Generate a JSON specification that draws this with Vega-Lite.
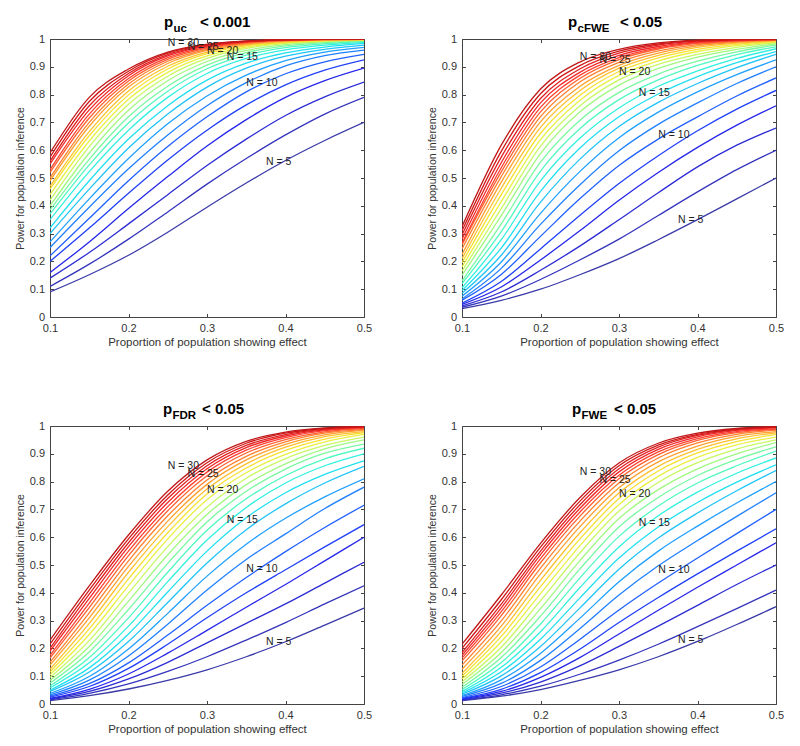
{
"$schema":"https://vega.github.io/schema/vega-lite/v6.json",
"background":"white",
"padding":{"left":14,"top":14,"right":5,"bottom":5},
"autosize":{"type":"pad"},
"config":{"view":{"stroke":"#444","strokeWidth":1},"font":"Liberation Sans",
"axis":{"grid":false,"domain":false,"tickColor":"#444","tickSize":-3.5,"labelFont":"Liberation Sans","labelFontSize":11,"labelColor":"#333","titleFont":"Liberation Sans","titleColor":"#333","titleFontWeight":"normal","labelFlush":false}},
"datasets":{
"labels":[
{"p":1,"t":"N = 30","x":0.25,"y":0.984},{"p":1,"t":"N = 25","x":0.275,"y":0.972},{"p":1,"t":"N = 20","x":0.3,"y":0.958},{"p":1,"t":"N = 15","x":0.325,"y":0.935},{"p":1,"t":"N = 10","x":0.35,"y":0.841},{"p":1,"t":"N = 5","x":0.375,"y":0.558},
{"p":2,"t":"N = 30","x":0.25,"y":0.937},{"p":2,"t":"N = 25","x":0.275,"y":0.925},{"p":2,"t":"N = 20","x":0.3,"y":0.883},{"p":2,"t":"N = 15","x":0.325,"y":0.805},{"p":2,"t":"N = 10","x":0.35,"y":0.655},{"p":2,"t":"N = 5","x":0.375,"y":0.35},
{"p":3,"t":"N = 30","x":0.25,"y":0.855},{"p":3,"t":"N = 25","x":0.275,"y":0.826},{"p":3,"t":"N = 20","x":0.3,"y":0.769},{"p":3,"t":"N = 15","x":0.325,"y":0.661},{"p":3,"t":"N = 10","x":0.35,"y":0.487},{"p":3,"t":"N = 5","x":0.375,"y":0.224},
{"p":4,"t":"N = 30","x":0.25,"y":0.835},{"p":4,"t":"N = 25","x":0.275,"y":0.805},{"p":4,"t":"N = 20","x":0.3,"y":0.757},{"p":4,"t":"N = 15","x":0.325,"y":0.651},{"p":4,"t":"N = 10","x":0.35,"y":0.481},{"p":4,"t":"N = 5","x":0.375,"y":0.23}
],
"curves":[
{"p":1,"N":5,"x":0.1,"y":0.09},{"p":1,"N":5,"x":0.15,"y":0.152},{"p":1,"N":5,"x":0.2,"y":0.222},{"p":1,"N":5,"x":0.25,"y":0.305},{"p":1,"N":5,"x":0.3,"y":0.395},{"p":1,"N":5,"x":0.35,"y":0.482},{"p":1,"N":5,"x":0.4,"y":0.563},{"p":1,"N":5,"x":0.45,"y":0.635},{"p":1,"N":5,"x":0.5,"y":0.7},
{"p":1,"N":6,"x":0.1,"y":0.11},{"p":1,"N":6,"x":0.15,"y":0.19},{"p":1,"N":6,"x":0.2,"y":0.28},{"p":1,"N":6,"x":0.25,"y":0.378},{"p":1,"N":6,"x":0.3,"y":0.478},{"p":1,"N":6,"x":0.35,"y":0.57},{"p":1,"N":6,"x":0.4,"y":0.655},{"p":1,"N":6,"x":0.45,"y":0.73},{"p":1,"N":6,"x":0.5,"y":0.79},
{"p":1,"N":7,"x":0.1,"y":0.14},{"p":1,"N":7,"x":0.15,"y":0.232},{"p":1,"N":7,"x":0.2,"y":0.335},{"p":1,"N":7,"x":0.25,"y":0.44},{"p":1,"N":7,"x":0.3,"y":0.545},{"p":1,"N":7,"x":0.35,"y":0.64},{"p":1,"N":7,"x":0.4,"y":0.725},{"p":1,"N":7,"x":0.45,"y":0.792},{"p":1,"N":7,"x":0.5,"y":0.845},
{"p":1,"N":8,"x":0.1,"y":0.16},{"p":1,"N":8,"x":0.15,"y":0.27},{"p":1,"N":8,"x":0.2,"y":0.39},{"p":1,"N":8,"x":0.25,"y":0.505},{"p":1,"N":8,"x":0.3,"y":0.615},{"p":1,"N":8,"x":0.35,"y":0.71},{"p":1,"N":8,"x":0.4,"y":0.79},{"p":1,"N":8,"x":0.45,"y":0.85},{"p":1,"N":8,"x":0.5,"y":0.895},
{"p":1,"N":9,"x":0.1,"y":0.2},{"p":1,"N":9,"x":0.15,"y":0.32},{"p":1,"N":9,"x":0.2,"y":0.445},{"p":1,"N":9,"x":0.25,"y":0.565},{"p":1,"N":9,"x":0.3,"y":0.672},{"p":1,"N":9,"x":0.35,"y":0.763},{"p":1,"N":9,"x":0.4,"y":0.835},{"p":1,"N":9,"x":0.45,"y":0.888},{"p":1,"N":9,"x":0.5,"y":0.925},
{"p":1,"N":10,"x":0.1,"y":0.22},{"p":1,"N":10,"x":0.15,"y":0.355},{"p":1,"N":10,"x":0.2,"y":0.49},{"p":1,"N":10,"x":0.25,"y":0.613},{"p":1,"N":10,"x":0.3,"y":0.72},{"p":1,"N":10,"x":0.35,"y":0.81},{"p":1,"N":10,"x":0.4,"y":0.875},{"p":1,"N":10,"x":0.45,"y":0.918},{"p":1,"N":10,"x":0.5,"y":0.945},
{"p":1,"N":11,"x":0.1,"y":0.25},{"p":1,"N":11,"x":0.15,"y":0.395},{"p":1,"N":11,"x":0.2,"y":0.533},{"p":1,"N":11,"x":0.25,"y":0.655},{"p":1,"N":11,"x":0.3,"y":0.76},{"p":1,"N":11,"x":0.35,"y":0.843},{"p":1,"N":11,"x":0.4,"y":0.903},{"p":1,"N":11,"x":0.45,"y":0.94},{"p":1,"N":11,"x":0.5,"y":0.96},
{"p":1,"N":12,"x":0.1,"y":0.27},{"p":1,"N":12,"x":0.15,"y":0.425},{"p":1,"N":12,"x":0.2,"y":0.57},{"p":1,"N":12,"x":0.25,"y":0.695},{"p":1,"N":12,"x":0.3,"y":0.795},{"p":1,"N":12,"x":0.35,"y":0.87},{"p":1,"N":12,"x":0.4,"y":0.922},{"p":1,"N":12,"x":0.45,"y":0.953},{"p":1,"N":12,"x":0.5,"y":0.97},
{"p":1,"N":13,"x":0.1,"y":0.3},{"p":1,"N":13,"x":0.15,"y":0.46},{"p":1,"N":13,"x":0.2,"y":0.608},{"p":1,"N":13,"x":0.25,"y":0.73},{"p":1,"N":13,"x":0.3,"y":0.827},{"p":1,"N":13,"x":0.35,"y":0.895},{"p":1,"N":13,"x":0.4,"y":0.938},{"p":1,"N":13,"x":0.45,"y":0.963},{"p":1,"N":13,"x":0.5,"y":0.978},
{"p":1,"N":14,"x":0.1,"y":0.32},{"p":1,"N":14,"x":0.15,"y":0.49},{"p":1,"N":14,"x":0.2,"y":0.64},{"p":1,"N":14,"x":0.25,"y":0.76},{"p":1,"N":14,"x":0.3,"y":0.852},{"p":1,"N":14,"x":0.35,"y":0.913},{"p":1,"N":14,"x":0.4,"y":0.95},{"p":1,"N":14,"x":0.45,"y":0.971},{"p":1,"N":14,"x":0.5,"y":0.984},
{"p":1,"N":15,"x":0.1,"y":0.35},{"p":1,"N":15,"x":0.15,"y":0.523},{"p":1,"N":15,"x":0.2,"y":0.672},{"p":1,"N":15,"x":0.25,"y":0.79},{"p":1,"N":15,"x":0.3,"y":0.876},{"p":1,"N":15,"x":0.35,"y":0.93},{"p":1,"N":15,"x":0.4,"y":0.961},{"p":1,"N":15,"x":0.45,"y":0.978},{"p":1,"N":15,"x":0.5,"y":0.988},
{"p":1,"N":16,"x":0.1,"y":0.37},{"p":1,"N":16,"x":0.15,"y":0.547},{"p":1,"N":16,"x":0.2,"y":0.698},{"p":1,"N":16,"x":0.25,"y":0.812},{"p":1,"N":16,"x":0.3,"y":0.893},{"p":1,"N":16,"x":0.35,"y":0.942},{"p":1,"N":16,"x":0.4,"y":0.969},{"p":1,"N":16,"x":0.45,"y":0.983},{"p":1,"N":16,"x":0.5,"y":0.991},
{"p":1,"N":17,"x":0.1,"y":0.385},{"p":1,"N":17,"x":0.15,"y":0.567},{"p":1,"N":17,"x":0.2,"y":0.72},{"p":1,"N":17,"x":0.25,"y":0.83},{"p":1,"N":17,"x":0.3,"y":0.906},{"p":1,"N":17,"x":0.35,"y":0.951},{"p":1,"N":17,"x":0.4,"y":0.975},{"p":1,"N":17,"x":0.45,"y":0.987},{"p":1,"N":17,"x":0.5,"y":0.993},
{"p":1,"N":18,"x":0.1,"y":0.4},{"p":1,"N":18,"x":0.15,"y":0.59},{"p":1,"N":18,"x":0.2,"y":0.744},{"p":1,"N":18,"x":0.25,"y":0.85},{"p":1,"N":18,"x":0.3,"y":0.919},{"p":1,"N":18,"x":0.35,"y":0.959},{"p":1,"N":18,"x":0.4,"y":0.98},{"p":1,"N":18,"x":0.45,"y":0.99},{"p":1,"N":18,"x":0.5,"y":0.995},
{"p":1,"N":19,"x":0.1,"y":0.42},{"p":1,"N":19,"x":0.15,"y":0.613},{"p":1,"N":19,"x":0.2,"y":0.765},{"p":1,"N":19,"x":0.25,"y":0.866},{"p":1,"N":19,"x":0.3,"y":0.93},{"p":1,"N":19,"x":0.35,"y":0.966},{"p":1,"N":19,"x":0.4,"y":0.984},{"p":1,"N":19,"x":0.45,"y":0.992},{"p":1,"N":19,"x":0.5,"y":0.996},
{"p":1,"N":20,"x":0.1,"y":0.44},{"p":1,"N":20,"x":0.15,"y":0.633},{"p":1,"N":20,"x":0.2,"y":0.783},{"p":1,"N":20,"x":0.25,"y":0.88},{"p":1,"N":20,"x":0.3,"y":0.939},{"p":1,"N":20,"x":0.35,"y":0.971},{"p":1,"N":20,"x":0.4,"y":0.987},{"p":1,"N":20,"x":0.45,"y":0.994},{"p":1,"N":20,"x":0.5,"y":0.997},
{"p":1,"N":21,"x":0.1,"y":0.46},{"p":1,"N":21,"x":0.15,"y":0.652},{"p":1,"N":21,"x":0.2,"y":0.799},{"p":1,"N":21,"x":0.25,"y":0.892},{"p":1,"N":21,"x":0.3,"y":0.947},{"p":1,"N":21,"x":0.35,"y":0.975},{"p":1,"N":21,"x":0.4,"y":0.989},{"p":1,"N":21,"x":0.45,"y":0.995},{"p":1,"N":21,"x":0.5,"y":0.998},
{"p":1,"N":22,"x":0.1,"y":0.47},{"p":1,"N":22,"x":0.15,"y":0.667},{"p":1,"N":22,"x":0.2,"y":0.813},{"p":1,"N":22,"x":0.25,"y":0.902},{"p":1,"N":22,"x":0.3,"y":0.953},{"p":1,"N":22,"x":0.35,"y":0.979},{"p":1,"N":22,"x":0.4,"y":0.991},{"p":1,"N":22,"x":0.45,"y":0.996},{"p":1,"N":22,"x":0.5,"y":0.998},
{"p":1,"N":23,"x":0.1,"y":0.49},{"p":1,"N":23,"x":0.15,"y":0.686},{"p":1,"N":23,"x":0.2,"y":0.827},{"p":1,"N":23,"x":0.25,"y":0.912},{"p":1,"N":23,"x":0.3,"y":0.959},{"p":1,"N":23,"x":0.35,"y":0.982},{"p":1,"N":23,"x":0.4,"y":0.993},{"p":1,"N":23,"x":0.45,"y":0.997},{"p":1,"N":23,"x":0.5,"y":0.999},
{"p":1,"N":24,"x":0.1,"y":0.5},{"p":1,"N":24,"x":0.15,"y":0.7},{"p":1,"N":24,"x":0.2,"y":0.838},{"p":1,"N":24,"x":0.25,"y":0.92},{"p":1,"N":24,"x":0.3,"y":0.963},{"p":1,"N":24,"x":0.35,"y":0.985},{"p":1,"N":24,"x":0.4,"y":0.994},{"p":1,"N":24,"x":0.45,"y":0.998},{"p":1,"N":24,"x":0.5,"y":0.999},
{"p":1,"N":25,"x":0.1,"y":0.52},{"p":1,"N":25,"x":0.15,"y":0.716},{"p":1,"N":25,"x":0.2,"y":0.849},{"p":1,"N":25,"x":0.25,"y":0.927},{"p":1,"N":25,"x":0.3,"y":0.967},{"p":1,"N":25,"x":0.35,"y":0.987},{"p":1,"N":25,"x":0.4,"y":0.995},{"p":1,"N":25,"x":0.45,"y":0.998},{"p":1,"N":25,"x":0.5,"y":0.999},
{"p":1,"N":26,"x":0.1,"y":0.53},{"p":1,"N":26,"x":0.15,"y":0.73},{"p":1,"N":26,"x":0.2,"y":0.858},{"p":1,"N":26,"x":0.25,"y":0.933},{"p":1,"N":26,"x":0.3,"y":0.971},{"p":1,"N":26,"x":0.35,"y":0.989},{"p":1,"N":26,"x":0.4,"y":0.996},{"p":1,"N":26,"x":0.45,"y":0.999},{"p":1,"N":26,"x":0.5,"y":1},
{"p":1,"N":27,"x":0.1,"y":0.55},{"p":1,"N":27,"x":0.15,"y":0.745},{"p":1,"N":27,"x":0.2,"y":0.868},{"p":1,"N":27,"x":0.25,"y":0.939},{"p":1,"N":27,"x":0.3,"y":0.974},{"p":1,"N":27,"x":0.35,"y":0.99},{"p":1,"N":27,"x":0.4,"y":0.997},{"p":1,"N":27,"x":0.45,"y":0.999},{"p":1,"N":27,"x":0.5,"y":1},
{"p":1,"N":28,"x":0.1,"y":0.56},{"p":1,"N":28,"x":0.15,"y":0.76},{"p":1,"N":28,"x":0.2,"y":0.876},{"p":1,"N":28,"x":0.25,"y":0.944},{"p":1,"N":28,"x":0.3,"y":0.977},{"p":1,"N":28,"x":0.35,"y":0.991},{"p":1,"N":28,"x":0.4,"y":0.997},{"p":1,"N":28,"x":0.45,"y":0.999},{"p":1,"N":28,"x":0.5,"y":1},
{"p":1,"N":29,"x":0.1,"y":0.575},{"p":1,"N":29,"x":0.15,"y":0.775},{"p":1,"N":29,"x":0.2,"y":0.884},{"p":1,"N":29,"x":0.25,"y":0.949},{"p":1,"N":29,"x":0.3,"y":0.979},{"p":1,"N":29,"x":0.35,"y":0.992},{"p":1,"N":29,"x":0.4,"y":0.998},{"p":1,"N":29,"x":0.45,"y":0.999},{"p":1,"N":29,"x":0.5,"y":1},
{"p":1,"N":30,"x":0.1,"y":0.59},{"p":1,"N":30,"x":0.15,"y":0.79},{"p":1,"N":30,"x":0.2,"y":0.892},{"p":1,"N":30,"x":0.25,"y":0.953},{"p":1,"N":30,"x":0.3,"y":0.981},{"p":1,"N":30,"x":0.35,"y":0.993},{"p":1,"N":30,"x":0.4,"y":0.998},{"p":1,"N":30,"x":0.45,"y":1},{"p":1,"N":30,"x":0.5,"y":1},
{"p":2,"N":5,"x":0.1,"y":0.03},{"p":2,"N":5,"x":0.15,"y":0.06},{"p":2,"N":5,"x":0.2,"y":0.1},{"p":2,"N":5,"x":0.25,"y":0.152},{"p":2,"N":5,"x":0.3,"y":0.21},{"p":2,"N":5,"x":0.35,"y":0.278},{"p":2,"N":5,"x":0.4,"y":0.35},{"p":2,"N":5,"x":0.45,"y":0.425},{"p":2,"N":5,"x":0.5,"y":0.5},
{"p":2,"N":6,"x":0.1,"y":0.035},{"p":2,"N":6,"x":0.15,"y":0.075},{"p":2,"N":6,"x":0.2,"y":0.135},{"p":2,"N":6,"x":0.25,"y":0.205},{"p":2,"N":6,"x":0.3,"y":0.28},{"p":2,"N":6,"x":0.35,"y":0.365},{"p":2,"N":6,"x":0.4,"y":0.45},{"p":2,"N":6,"x":0.45,"y":0.53},{"p":2,"N":6,"x":0.5,"y":0.6},
{"p":2,"N":7,"x":0.1,"y":0.04},{"p":2,"N":7,"x":0.15,"y":0.09},{"p":2,"N":7,"x":0.2,"y":0.168},{"p":2,"N":7,"x":0.25,"y":0.255},{"p":2,"N":7,"x":0.3,"y":0.35},{"p":2,"N":7,"x":0.35,"y":0.447},{"p":2,"N":7,"x":0.4,"y":0.54},{"p":2,"N":7,"x":0.45,"y":0.618},{"p":2,"N":7,"x":0.5,"y":0.68},
{"p":2,"N":8,"x":0.1,"y":0.045},{"p":2,"N":8,"x":0.15,"y":0.108},{"p":2,"N":8,"x":0.2,"y":0.205},{"p":2,"N":8,"x":0.25,"y":0.31},{"p":2,"N":8,"x":0.3,"y":0.42},{"p":2,"N":8,"x":0.35,"y":0.52},{"p":2,"N":8,"x":0.4,"y":0.61},{"p":2,"N":8,"x":0.45,"y":0.69},{"p":2,"N":8,"x":0.5,"y":0.76},
{"p":2,"N":9,"x":0.1,"y":0.05},{"p":2,"N":9,"x":0.15,"y":0.128},{"p":2,"N":9,"x":0.2,"y":0.245},{"p":2,"N":9,"x":0.25,"y":0.365},{"p":2,"N":9,"x":0.3,"y":0.48},{"p":2,"N":9,"x":0.35,"y":0.58},{"p":2,"N":9,"x":0.4,"y":0.67},{"p":2,"N":9,"x":0.45,"y":0.748},{"p":2,"N":9,"x":0.5,"y":0.815},
{"p":2,"N":10,"x":0.1,"y":0.06},{"p":2,"N":10,"x":0.15,"y":0.153},{"p":2,"N":10,"x":0.2,"y":0.29},{"p":2,"N":10,"x":0.25,"y":0.425},{"p":2,"N":10,"x":0.3,"y":0.545},{"p":2,"N":10,"x":0.35,"y":0.64},{"p":2,"N":10,"x":0.4,"y":0.72},{"p":2,"N":10,"x":0.45,"y":0.795},{"p":2,"N":10,"x":0.5,"y":0.86},
{"p":2,"N":11,"x":0.1,"y":0.065},{"p":2,"N":11,"x":0.15,"y":0.175},{"p":2,"N":11,"x":0.2,"y":0.333},{"p":2,"N":11,"x":0.25,"y":0.475},{"p":2,"N":11,"x":0.3,"y":0.598},{"p":2,"N":11,"x":0.35,"y":0.693},{"p":2,"N":11,"x":0.4,"y":0.77},{"p":2,"N":11,"x":0.45,"y":0.84},{"p":2,"N":11,"x":0.5,"y":0.9},
{"p":2,"N":12,"x":0.1,"y":0.075},{"p":2,"N":12,"x":0.15,"y":0.198},{"p":2,"N":12,"x":0.2,"y":0.373},{"p":2,"N":12,"x":0.25,"y":0.523},{"p":2,"N":12,"x":0.3,"y":0.645},{"p":2,"N":12,"x":0.35,"y":0.737},{"p":2,"N":12,"x":0.4,"y":0.81},{"p":2,"N":12,"x":0.45,"y":0.872},{"p":2,"N":12,"x":0.5,"y":0.925},
{"p":2,"N":13,"x":0.1,"y":0.085},{"p":2,"N":13,"x":0.15,"y":0.222},{"p":2,"N":13,"x":0.2,"y":0.413},{"p":2,"N":13,"x":0.25,"y":0.567},{"p":2,"N":13,"x":0.3,"y":0.685},{"p":2,"N":13,"x":0.35,"y":0.772},{"p":2,"N":13,"x":0.4,"y":0.84},{"p":2,"N":13,"x":0.45,"y":0.897},{"p":2,"N":13,"x":0.5,"y":0.945},
{"p":2,"N":14,"x":0.1,"y":0.095},{"p":2,"N":14,"x":0.15,"y":0.248},{"p":2,"N":14,"x":0.2,"y":0.452},{"p":2,"N":14,"x":0.25,"y":0.607},{"p":2,"N":14,"x":0.3,"y":0.72},{"p":2,"N":14,"x":0.35,"y":0.802},{"p":2,"N":14,"x":0.4,"y":0.865},{"p":2,"N":14,"x":0.45,"y":0.915},{"p":2,"N":14,"x":0.5,"y":0.955},
{"p":2,"N":15,"x":0.1,"y":0.105},{"p":2,"N":15,"x":0.15,"y":0.278},{"p":2,"N":15,"x":0.2,"y":0.49},{"p":2,"N":15,"x":0.25,"y":0.643},{"p":2,"N":15,"x":0.3,"y":0.752},{"p":2,"N":15,"x":0.35,"y":0.83},{"p":2,"N":15,"x":0.4,"y":0.885},{"p":2,"N":15,"x":0.45,"y":0.93},{"p":2,"N":15,"x":0.5,"y":0.965},
{"p":2,"N":16,"x":0.1,"y":0.12},{"p":2,"N":16,"x":0.15,"y":0.307},{"p":2,"N":16,"x":0.2,"y":0.525},{"p":2,"N":16,"x":0.25,"y":0.677},{"p":2,"N":16,"x":0.3,"y":0.782},{"p":2,"N":16,"x":0.35,"y":0.853},{"p":2,"N":16,"x":0.4,"y":0.905},{"p":2,"N":16,"x":0.45,"y":0.944},{"p":2,"N":16,"x":0.5,"y":0.972},
{"p":2,"N":17,"x":0.1,"y":0.13},{"p":2,"N":17,"x":0.15,"y":0.335},{"p":2,"N":17,"x":0.2,"y":0.557},{"p":2,"N":17,"x":0.25,"y":0.707},{"p":2,"N":17,"x":0.3,"y":0.808},{"p":2,"N":17,"x":0.35,"y":0.874},{"p":2,"N":17,"x":0.4,"y":0.92},{"p":2,"N":17,"x":0.45,"y":0.954},{"p":2,"N":17,"x":0.5,"y":0.978},
{"p":2,"N":18,"x":0.1,"y":0.15},{"p":2,"N":18,"x":0.15,"y":0.365},{"p":2,"N":18,"x":0.2,"y":0.588},{"p":2,"N":18,"x":0.25,"y":0.737},{"p":2,"N":18,"x":0.3,"y":0.834},{"p":2,"N":18,"x":0.35,"y":0.894},{"p":2,"N":18,"x":0.4,"y":0.935},{"p":2,"N":18,"x":0.45,"y":0.963},{"p":2,"N":18,"x":0.5,"y":0.983},
{"p":2,"N":19,"x":0.1,"y":0.165},{"p":2,"N":19,"x":0.15,"y":0.39},{"p":2,"N":19,"x":0.2,"y":0.615},{"p":2,"N":19,"x":0.25,"y":0.759},{"p":2,"N":19,"x":0.3,"y":0.853},{"p":2,"N":19,"x":0.35,"y":0.909},{"p":2,"N":19,"x":0.4,"y":0.945},{"p":2,"N":19,"x":0.45,"y":0.97},{"p":2,"N":19,"x":0.5,"y":0.987},
{"p":2,"N":20,"x":0.1,"y":0.18},{"p":2,"N":20,"x":0.15,"y":0.415},{"p":2,"N":20,"x":0.2,"y":0.638},{"p":2,"N":20,"x":0.25,"y":0.779},{"p":2,"N":20,"x":0.3,"y":0.869},{"p":2,"N":20,"x":0.35,"y":0.921},{"p":2,"N":20,"x":0.4,"y":0.955},{"p":2,"N":20,"x":0.45,"y":0.976},{"p":2,"N":20,"x":0.5,"y":0.99},
{"p":2,"N":21,"x":0.1,"y":0.195},{"p":2,"N":21,"x":0.15,"y":0.44},{"p":2,"N":21,"x":0.2,"y":0.661},{"p":2,"N":21,"x":0.25,"y":0.797},{"p":2,"N":21,"x":0.3,"y":0.883},{"p":2,"N":21,"x":0.35,"y":0.932},{"p":2,"N":21,"x":0.4,"y":0.963},{"p":2,"N":21,"x":0.45,"y":0.981},{"p":2,"N":21,"x":0.5,"y":0.992},
{"p":2,"N":22,"x":0.1,"y":0.21},{"p":2,"N":22,"x":0.15,"y":0.463},{"p":2,"N":22,"x":0.2,"y":0.682},{"p":2,"N":22,"x":0.25,"y":0.814},{"p":2,"N":22,"x":0.3,"y":0.895},{"p":2,"N":22,"x":0.35,"y":0.941},{"p":2,"N":22,"x":0.4,"y":0.97},{"p":2,"N":22,"x":0.45,"y":0.985},{"p":2,"N":22,"x":0.5,"y":0.994},
{"p":2,"N":23,"x":0.1,"y":0.225},{"p":2,"N":23,"x":0.15,"y":0.485},{"p":2,"N":23,"x":0.2,"y":0.702},{"p":2,"N":23,"x":0.25,"y":0.829},{"p":2,"N":23,"x":0.3,"y":0.905},{"p":2,"N":23,"x":0.35,"y":0.949},{"p":2,"N":23,"x":0.4,"y":0.975},{"p":2,"N":23,"x":0.45,"y":0.988},{"p":2,"N":23,"x":0.5,"y":0.995},
{"p":2,"N":24,"x":0.1,"y":0.245},{"p":2,"N":24,"x":0.15,"y":0.505},{"p":2,"N":24,"x":0.2,"y":0.721},{"p":2,"N":24,"x":0.25,"y":0.845},{"p":2,"N":24,"x":0.3,"y":0.916},{"p":2,"N":24,"x":0.35,"y":0.957},{"p":2,"N":24,"x":0.4,"y":0.98},{"p":2,"N":24,"x":0.45,"y":0.991},{"p":2,"N":24,"x":0.5,"y":0.996},
{"p":2,"N":25,"x":0.1,"y":0.26},{"p":2,"N":25,"x":0.15,"y":0.522},{"p":2,"N":25,"x":0.2,"y":0.738},{"p":2,"N":25,"x":0.25,"y":0.858},{"p":2,"N":25,"x":0.3,"y":0.926},{"p":2,"N":25,"x":0.35,"y":0.964},{"p":2,"N":25,"x":0.4,"y":0.984},{"p":2,"N":25,"x":0.45,"y":0.993},{"p":2,"N":25,"x":0.5,"y":0.997},
{"p":2,"N":26,"x":0.1,"y":0.265},{"p":2,"N":26,"x":0.15,"y":0.537},{"p":2,"N":26,"x":0.2,"y":0.754},{"p":2,"N":26,"x":0.25,"y":0.869},{"p":2,"N":26,"x":0.3,"y":0.933},{"p":2,"N":26,"x":0.35,"y":0.968},{"p":2,"N":26,"x":0.4,"y":0.987},{"p":2,"N":26,"x":0.45,"y":0.994},{"p":2,"N":26,"x":0.5,"y":0.998},
{"p":2,"N":27,"x":0.1,"y":0.28},{"p":2,"N":27,"x":0.15,"y":0.555},{"p":2,"N":27,"x":0.2,"y":0.77},{"p":2,"N":27,"x":0.25,"y":0.88},{"p":2,"N":27,"x":0.3,"y":0.941},{"p":2,"N":27,"x":0.35,"y":0.973},{"p":2,"N":27,"x":0.4,"y":0.99},{"p":2,"N":27,"x":0.45,"y":0.996},{"p":2,"N":27,"x":0.5,"y":0.998},
{"p":2,"N":28,"x":0.1,"y":0.295},{"p":2,"N":28,"x":0.15,"y":0.575},{"p":2,"N":28,"x":0.2,"y":0.786},{"p":2,"N":28,"x":0.25,"y":0.892},{"p":2,"N":28,"x":0.3,"y":0.949},{"p":2,"N":28,"x":0.35,"y":0.978},{"p":2,"N":28,"x":0.4,"y":0.992},{"p":2,"N":28,"x":0.45,"y":0.997},{"p":2,"N":28,"x":0.5,"y":0.999},
{"p":2,"N":29,"x":0.1,"y":0.31},{"p":2,"N":29,"x":0.15,"y":0.596},{"p":2,"N":29,"x":0.2,"y":0.803},{"p":2,"N":29,"x":0.25,"y":0.904},{"p":2,"N":29,"x":0.3,"y":0.956},{"p":2,"N":29,"x":0.35,"y":0.982},{"p":2,"N":29,"x":0.4,"y":0.994},{"p":2,"N":29,"x":0.45,"y":0.998},{"p":2,"N":29,"x":0.5,"y":0.999},
{"p":2,"N":30,"x":0.1,"y":0.325},{"p":2,"N":30,"x":0.15,"y":0.618},{"p":2,"N":30,"x":0.2,"y":0.82},{"p":2,"N":30,"x":0.25,"y":0.917},{"p":2,"N":30,"x":0.3,"y":0.963},{"p":2,"N":30,"x":0.35,"y":0.986},{"p":2,"N":30,"x":0.4,"y":0.996},{"p":2,"N":30,"x":0.45,"y":0.999},{"p":2,"N":30,"x":0.5,"y":1},
{"p":3,"N":5,"x":0.1,"y":0.012},{"p":3,"N":5,"x":0.15,"y":0.03},{"p":3,"N":5,"x":0.2,"y":0.054},{"p":3,"N":5,"x":0.25,"y":0.085},{"p":3,"N":5,"x":0.3,"y":0.123},{"p":3,"N":5,"x":0.35,"y":0.17},{"p":3,"N":5,"x":0.4,"y":0.224},{"p":3,"N":5,"x":0.45,"y":0.284},{"p":3,"N":5,"x":0.5,"y":0.345},
{"p":3,"N":6,"x":0.1,"y":0.015},{"p":3,"N":6,"x":0.15,"y":0.038},{"p":3,"N":6,"x":0.2,"y":0.072},{"p":3,"N":6,"x":0.25,"y":0.117},{"p":3,"N":6,"x":0.3,"y":0.17},{"p":3,"N":6,"x":0.35,"y":0.23},{"p":3,"N":6,"x":0.4,"y":0.293},{"p":3,"N":6,"x":0.45,"y":0.36},{"p":3,"N":6,"x":0.5,"y":0.425},
{"p":3,"N":7,"x":0.1,"y":0.018},{"p":3,"N":7,"x":0.15,"y":0.045},{"p":3,"N":7,"x":0.2,"y":0.09},{"p":3,"N":7,"x":0.25,"y":0.15},{"p":3,"N":7,"x":0.3,"y":0.22},{"p":3,"N":7,"x":0.35,"y":0.29},{"p":3,"N":7,"x":0.4,"y":0.36},{"p":3,"N":7,"x":0.45,"y":0.435},{"p":3,"N":7,"x":0.5,"y":0.51},
{"p":3,"N":8,"x":0.1,"y":0.02},{"p":3,"N":8,"x":0.15,"y":0.053},{"p":3,"N":8,"x":0.2,"y":0.108},{"p":3,"N":8,"x":0.25,"y":0.183},{"p":3,"N":8,"x":0.3,"y":0.265},{"p":3,"N":8,"x":0.35,"y":0.348},{"p":3,"N":8,"x":0.4,"y":0.43},{"p":3,"N":8,"x":0.45,"y":0.515},{"p":3,"N":8,"x":0.5,"y":0.6},
{"p":3,"N":9,"x":0.1,"y":0.025},{"p":3,"N":9,"x":0.15,"y":0.063},{"p":3,"N":9,"x":0.2,"y":0.128},{"p":3,"N":9,"x":0.25,"y":0.215},{"p":3,"N":9,"x":0.3,"y":0.31},{"p":3,"N":9,"x":0.35,"y":0.4},{"p":3,"N":9,"x":0.4,"y":0.483},{"p":3,"N":9,"x":0.45,"y":0.565},{"p":3,"N":9,"x":0.5,"y":0.645},
{"p":3,"N":10,"x":0.1,"y":0.028},{"p":3,"N":10,"x":0.15,"y":0.073},{"p":3,"N":10,"x":0.2,"y":0.148},{"p":3,"N":10,"x":0.25,"y":0.248},{"p":3,"N":10,"x":0.3,"y":0.355},{"p":3,"N":10,"x":0.35,"y":0.455},{"p":3,"N":10,"x":0.4,"y":0.548},{"p":3,"N":10,"x":0.45,"y":0.635},{"p":3,"N":10,"x":0.5,"y":0.715},
{"p":3,"N":11,"x":0.1,"y":0.033},{"p":3,"N":11,"x":0.15,"y":0.086},{"p":3,"N":11,"x":0.2,"y":0.173},{"p":3,"N":11,"x":0.25,"y":0.287},{"p":3,"N":11,"x":0.3,"y":0.41},{"p":3,"N":11,"x":0.35,"y":0.52},{"p":3,"N":11,"x":0.4,"y":0.612},{"p":3,"N":11,"x":0.45,"y":0.703},{"p":3,"N":11,"x":0.5,"y":0.78},
{"p":3,"N":12,"x":0.1,"y":0.038},{"p":3,"N":12,"x":0.15,"y":0.099},{"p":3,"N":12,"x":0.2,"y":0.198},{"p":3,"N":12,"x":0.25,"y":0.326},{"p":3,"N":12,"x":0.3,"y":0.46},{"p":3,"N":12,"x":0.35,"y":0.575},{"p":3,"N":12,"x":0.4,"y":0.668},{"p":3,"N":12,"x":0.45,"y":0.745},{"p":3,"N":12,"x":0.5,"y":0.81},
{"p":3,"N":13,"x":0.1,"y":0.045},{"p":3,"N":13,"x":0.15,"y":0.115},{"p":3,"N":13,"x":0.2,"y":0.225},{"p":3,"N":13,"x":0.25,"y":0.365},{"p":3,"N":13,"x":0.3,"y":0.507},{"p":3,"N":13,"x":0.35,"y":0.627},{"p":3,"N":13,"x":0.4,"y":0.72},{"p":3,"N":13,"x":0.45,"y":0.795},{"p":3,"N":13,"x":0.5,"y":0.855},
{"p":3,"N":14,"x":0.1,"y":0.05},{"p":3,"N":14,"x":0.15,"y":0.13},{"p":3,"N":14,"x":0.2,"y":0.252},{"p":3,"N":14,"x":0.25,"y":0.403},{"p":3,"N":14,"x":0.3,"y":0.55},{"p":3,"N":14,"x":0.35,"y":0.67},{"p":3,"N":14,"x":0.4,"y":0.76},{"p":3,"N":14,"x":0.45,"y":0.826},{"p":3,"N":14,"x":0.5,"y":0.875},
{"p":3,"N":15,"x":0.1,"y":0.058},{"p":3,"N":15,"x":0.15,"y":0.148},{"p":3,"N":15,"x":0.2,"y":0.28},{"p":3,"N":15,"x":0.25,"y":0.44},{"p":3,"N":15,"x":0.3,"y":0.59},{"p":3,"N":15,"x":0.35,"y":0.707},{"p":3,"N":15,"x":0.4,"y":0.795},{"p":3,"N":15,"x":0.45,"y":0.857},{"p":3,"N":15,"x":0.5,"y":0.9},
{"p":3,"N":16,"x":0.1,"y":0.065},{"p":3,"N":16,"x":0.15,"y":0.167},{"p":3,"N":16,"x":0.2,"y":0.31},{"p":3,"N":16,"x":0.25,"y":0.474},{"p":3,"N":16,"x":0.3,"y":0.625},{"p":3,"N":16,"x":0.35,"y":0.738},{"p":3,"N":16,"x":0.4,"y":0.822},{"p":3,"N":16,"x":0.45,"y":0.882},{"p":3,"N":16,"x":0.5,"y":0.92},
{"p":3,"N":17,"x":0.1,"y":0.075},{"p":3,"N":17,"x":0.15,"y":0.187},{"p":3,"N":17,"x":0.2,"y":0.34},{"p":3,"N":17,"x":0.25,"y":0.506},{"p":3,"N":17,"x":0.3,"y":0.655},{"p":3,"N":17,"x":0.35,"y":0.765},{"p":3,"N":17,"x":0.4,"y":0.845},{"p":3,"N":17,"x":0.45,"y":0.902},{"p":3,"N":17,"x":0.5,"y":0.935},
{"p":3,"N":18,"x":0.1,"y":0.085},{"p":3,"N":18,"x":0.15,"y":0.207},{"p":3,"N":18,"x":0.2,"y":0.37},{"p":3,"N":18,"x":0.25,"y":0.537},{"p":3,"N":18,"x":0.3,"y":0.682},{"p":3,"N":18,"x":0.35,"y":0.789},{"p":3,"N":18,"x":0.4,"y":0.864},{"p":3,"N":18,"x":0.45,"y":0.918},{"p":3,"N":18,"x":0.5,"y":0.95},
{"p":3,"N":19,"x":0.1,"y":0.095},{"p":3,"N":19,"x":0.15,"y":0.228},{"p":3,"N":19,"x":0.2,"y":0.399},{"p":3,"N":19,"x":0.25,"y":0.566},{"p":3,"N":19,"x":0.3,"y":0.708},{"p":3,"N":19,"x":0.35,"y":0.812},{"p":3,"N":19,"x":0.4,"y":0.883},{"p":3,"N":19,"x":0.45,"y":0.93},{"p":3,"N":19,"x":0.5,"y":0.96},
{"p":3,"N":20,"x":0.1,"y":0.105},{"p":3,"N":20,"x":0.15,"y":0.25},{"p":3,"N":20,"x":0.2,"y":0.426},{"p":3,"N":20,"x":0.25,"y":0.594},{"p":3,"N":20,"x":0.3,"y":0.735},{"p":3,"N":20,"x":0.35,"y":0.832},{"p":3,"N":20,"x":0.4,"y":0.898},{"p":3,"N":20,"x":0.45,"y":0.943},{"p":3,"N":20,"x":0.5,"y":0.97},
{"p":3,"N":21,"x":0.1,"y":0.115},{"p":3,"N":21,"x":0.15,"y":0.27},{"p":3,"N":21,"x":0.2,"y":0.45},{"p":3,"N":21,"x":0.25,"y":0.616},{"p":3,"N":21,"x":0.3,"y":0.755},{"p":3,"N":21,"x":0.35,"y":0.849},{"p":3,"N":21,"x":0.4,"y":0.912},{"p":3,"N":21,"x":0.45,"y":0.953},{"p":3,"N":21,"x":0.5,"y":0.975},
{"p":3,"N":22,"x":0.1,"y":0.125},{"p":3,"N":22,"x":0.15,"y":0.29},{"p":3,"N":22,"x":0.2,"y":0.474},{"p":3,"N":22,"x":0.25,"y":0.638},{"p":3,"N":22,"x":0.3,"y":0.773},{"p":3,"N":22,"x":0.35,"y":0.864},{"p":3,"N":22,"x":0.4,"y":0.924},{"p":3,"N":22,"x":0.45,"y":0.962},{"p":3,"N":22,"x":0.5,"y":0.98},
{"p":3,"N":23,"x":0.1,"y":0.14},{"p":3,"N":23,"x":0.15,"y":0.31},{"p":3,"N":23,"x":0.2,"y":0.495},{"p":3,"N":23,"x":0.25,"y":0.658},{"p":3,"N":23,"x":0.3,"y":0.79},{"p":3,"N":23,"x":0.35,"y":0.878},{"p":3,"N":23,"x":0.4,"y":0.934},{"p":3,"N":23,"x":0.45,"y":0.968},{"p":3,"N":23,"x":0.5,"y":0.985},
{"p":3,"N":24,"x":0.1,"y":0.15},{"p":3,"N":24,"x":0.15,"y":0.328},{"p":3,"N":24,"x":0.2,"y":0.515},{"p":3,"N":24,"x":0.25,"y":0.677},{"p":3,"N":24,"x":0.3,"y":0.806},{"p":3,"N":24,"x":0.35,"y":0.891},{"p":3,"N":24,"x":0.4,"y":0.943},{"p":3,"N":24,"x":0.45,"y":0.974},{"p":3,"N":24,"x":0.5,"y":0.988},
{"p":3,"N":25,"x":0.1,"y":0.165},{"p":3,"N":25,"x":0.15,"y":0.347},{"p":3,"N":25,"x":0.2,"y":0.534},{"p":3,"N":25,"x":0.25,"y":0.695},{"p":3,"N":25,"x":0.3,"y":0.821},{"p":3,"N":25,"x":0.35,"y":0.903},{"p":3,"N":25,"x":0.4,"y":0.951},{"p":3,"N":25,"x":0.45,"y":0.979},{"p":3,"N":25,"x":0.5,"y":0.991},
{"p":3,"N":26,"x":0.1,"y":0.175},{"p":3,"N":26,"x":0.15,"y":0.363},{"p":3,"N":26,"x":0.2,"y":0.55},{"p":3,"N":26,"x":0.25,"y":0.71},{"p":3,"N":26,"x":0.3,"y":0.834},{"p":3,"N":26,"x":0.35,"y":0.913},{"p":3,"N":26,"x":0.4,"y":0.958},{"p":3,"N":26,"x":0.45,"y":0.983},{"p":3,"N":26,"x":0.5,"y":0.993},
{"p":3,"N":27,"x":0.1,"y":0.19},{"p":3,"N":27,"x":0.15,"y":0.38},{"p":3,"N":27,"x":0.2,"y":0.566},{"p":3,"N":27,"x":0.25,"y":0.725},{"p":3,"N":27,"x":0.3,"y":0.846},{"p":3,"N":27,"x":0.35,"y":0.922},{"p":3,"N":27,"x":0.4,"y":0.964},{"p":3,"N":27,"x":0.45,"y":0.986},{"p":3,"N":27,"x":0.5,"y":0.995},
{"p":3,"N":28,"x":0.1,"y":0.2},{"p":3,"N":28,"x":0.15,"y":0.395},{"p":3,"N":28,"x":0.2,"y":0.58},{"p":3,"N":28,"x":0.25,"y":0.739},{"p":3,"N":28,"x":0.3,"y":0.857},{"p":3,"N":28,"x":0.35,"y":0.93},{"p":3,"N":28,"x":0.4,"y":0.969},{"p":3,"N":28,"x":0.45,"y":0.989},{"p":3,"N":28,"x":0.5,"y":0.997},
{"p":3,"N":29,"x":0.1,"y":0.215},{"p":3,"N":29,"x":0.15,"y":0.41},{"p":3,"N":29,"x":0.2,"y":0.594},{"p":3,"N":29,"x":0.25,"y":0.752},{"p":3,"N":29,"x":0.3,"y":0.868},{"p":3,"N":29,"x":0.35,"y":0.938},{"p":3,"N":29,"x":0.4,"y":0.974},{"p":3,"N":29,"x":0.45,"y":0.991},{"p":3,"N":29,"x":0.5,"y":0.998},
{"p":3,"N":30,"x":0.1,"y":0.23},{"p":3,"N":30,"x":0.15,"y":0.425},{"p":3,"N":30,"x":0.2,"y":0.608},{"p":3,"N":30,"x":0.25,"y":0.765},{"p":3,"N":30,"x":0.3,"y":0.878},{"p":3,"N":30,"x":0.35,"y":0.945},{"p":3,"N":30,"x":0.4,"y":0.978},{"p":3,"N":30,"x":0.45,"y":0.993},{"p":3,"N":30,"x":0.5,"y":0.999},
{"p":4,"N":5,"x":0.1,"y":0.012},{"p":4,"N":5,"x":0.15,"y":0.028},{"p":4,"N":5,"x":0.2,"y":0.052},{"p":4,"N":5,"x":0.25,"y":0.085},{"p":4,"N":5,"x":0.3,"y":0.123},{"p":4,"N":5,"x":0.35,"y":0.17},{"p":4,"N":5,"x":0.4,"y":0.225},{"p":4,"N":5,"x":0.45,"y":0.286},{"p":4,"N":5,"x":0.5,"y":0.35},
{"p":4,"N":6,"x":0.1,"y":0.014},{"p":4,"N":6,"x":0.15,"y":0.033},{"p":4,"N":6,"x":0.2,"y":0.064},{"p":4,"N":6,"x":0.25,"y":0.107},{"p":4,"N":6,"x":0.3,"y":0.158},{"p":4,"N":6,"x":0.35,"y":0.215},{"p":4,"N":6,"x":0.4,"y":0.278},{"p":4,"N":6,"x":0.45,"y":0.343},{"p":4,"N":6,"x":0.5,"y":0.41},
{"p":4,"N":7,"x":0.1,"y":0.016},{"p":4,"N":7,"x":0.15,"y":0.039},{"p":4,"N":7,"x":0.2,"y":0.079},{"p":4,"N":7,"x":0.25,"y":0.137},{"p":4,"N":7,"x":0.3,"y":0.207},{"p":4,"N":7,"x":0.35,"y":0.28},{"p":4,"N":7,"x":0.4,"y":0.355},{"p":4,"N":7,"x":0.45,"y":0.43},{"p":4,"N":7,"x":0.5,"y":0.5},
{"p":4,"N":8,"x":0.1,"y":0.018},{"p":4,"N":8,"x":0.15,"y":0.045},{"p":4,"N":8,"x":0.2,"y":0.096},{"p":4,"N":8,"x":0.25,"y":0.167},{"p":4,"N":8,"x":0.3,"y":0.252},{"p":4,"N":8,"x":0.35,"y":0.337},{"p":4,"N":8,"x":0.4,"y":0.42},{"p":4,"N":8,"x":0.45,"y":0.5},{"p":4,"N":8,"x":0.5,"y":0.58},
{"p":4,"N":9,"x":0.1,"y":0.02},{"p":4,"N":9,"x":0.15,"y":0.053},{"p":4,"N":9,"x":0.2,"y":0.113},{"p":4,"N":9,"x":0.25,"y":0.197},{"p":4,"N":9,"x":0.3,"y":0.293},{"p":4,"N":9,"x":0.35,"y":0.383},{"p":4,"N":9,"x":0.4,"y":0.468},{"p":4,"N":9,"x":0.45,"y":0.55},{"p":4,"N":9,"x":0.5,"y":0.63},
{"p":4,"N":10,"x":0.1,"y":0.023},{"p":4,"N":10,"x":0.15,"y":0.063},{"p":4,"N":10,"x":0.2,"y":0.133},{"p":4,"N":10,"x":0.25,"y":0.232},{"p":4,"N":10,"x":0.3,"y":0.338},{"p":4,"N":10,"x":0.35,"y":0.435},{"p":4,"N":10,"x":0.4,"y":0.525},{"p":4,"N":10,"x":0.45,"y":0.613},{"p":4,"N":10,"x":0.5,"y":0.7},
{"p":4,"N":11,"x":0.1,"y":0.027},{"p":4,"N":11,"x":0.15,"y":0.074},{"p":4,"N":11,"x":0.2,"y":0.157},{"p":4,"N":11,"x":0.25,"y":0.271},{"p":4,"N":11,"x":0.3,"y":0.392},{"p":4,"N":11,"x":0.35,"y":0.497},{"p":4,"N":11,"x":0.4,"y":0.588},{"p":4,"N":11,"x":0.45,"y":0.675},{"p":4,"N":11,"x":0.5,"y":0.76},
{"p":4,"N":12,"x":0.1,"y":0.03},{"p":4,"N":12,"x":0.15,"y":0.087},{"p":4,"N":12,"x":0.2,"y":0.182},{"p":4,"N":12,"x":0.25,"y":0.308},{"p":4,"N":12,"x":0.3,"y":0.44},{"p":4,"N":12,"x":0.35,"y":0.55},{"p":4,"N":12,"x":0.4,"y":0.64},{"p":4,"N":12,"x":0.45,"y":0.723},{"p":4,"N":12,"x":0.5,"y":0.8},
{"p":4,"N":13,"x":0.1,"y":0.035},{"p":4,"N":13,"x":0.15,"y":0.101},{"p":4,"N":13,"x":0.2,"y":0.207},{"p":4,"N":13,"x":0.25,"y":0.345},{"p":4,"N":13,"x":0.3,"y":0.485},{"p":4,"N":13,"x":0.35,"y":0.597},{"p":4,"N":13,"x":0.4,"y":0.687},{"p":4,"N":13,"x":0.45,"y":0.767},{"p":4,"N":13,"x":0.5,"y":0.84},
{"p":4,"N":14,"x":0.1,"y":0.04},{"p":4,"N":14,"x":0.15,"y":0.116},{"p":4,"N":14,"x":0.2,"y":0.233},{"p":4,"N":14,"x":0.25,"y":0.381},{"p":4,"N":14,"x":0.3,"y":0.525},{"p":4,"N":14,"x":0.35,"y":0.637},{"p":4,"N":14,"x":0.4,"y":0.725},{"p":4,"N":14,"x":0.45,"y":0.798},{"p":4,"N":14,"x":0.5,"y":0.86},
{"p":4,"N":15,"x":0.1,"y":0.045},{"p":4,"N":15,"x":0.15,"y":0.132},{"p":4,"N":15,"x":0.2,"y":0.26},{"p":4,"N":15,"x":0.25,"y":0.418},{"p":4,"N":15,"x":0.3,"y":0.565},{"p":4,"N":15,"x":0.35,"y":0.677},{"p":4,"N":15,"x":0.4,"y":0.762},{"p":4,"N":15,"x":0.45,"y":0.83},{"p":4,"N":15,"x":0.5,"y":0.885},
{"p":4,"N":16,"x":0.1,"y":0.052},{"p":4,"N":16,"x":0.15,"y":0.149},{"p":4,"N":16,"x":0.2,"y":0.288},{"p":4,"N":16,"x":0.25,"y":0.453},{"p":4,"N":16,"x":0.3,"y":0.603},{"p":4,"N":16,"x":0.35,"y":0.712},{"p":4,"N":16,"x":0.4,"y":0.795},{"p":4,"N":16,"x":0.45,"y":0.857},{"p":4,"N":16,"x":0.5,"y":0.91},
{"p":4,"N":17,"x":0.1,"y":0.06},{"p":4,"N":17,"x":0.15,"y":0.167},{"p":4,"N":17,"x":0.2,"y":0.316},{"p":4,"N":17,"x":0.25,"y":0.485},{"p":4,"N":17,"x":0.3,"y":0.637},{"p":4,"N":17,"x":0.35,"y":0.743},{"p":4,"N":17,"x":0.4,"y":0.822},{"p":4,"N":17,"x":0.45,"y":0.88},{"p":4,"N":17,"x":0.5,"y":0.925},
{"p":4,"N":18,"x":0.1,"y":0.07},{"p":4,"N":18,"x":0.15,"y":0.185},{"p":4,"N":18,"x":0.2,"y":0.343},{"p":4,"N":18,"x":0.25,"y":0.515},{"p":4,"N":18,"x":0.3,"y":0.667},{"p":4,"N":18,"x":0.35,"y":0.771},{"p":4,"N":18,"x":0.4,"y":0.846},{"p":4,"N":18,"x":0.45,"y":0.9},{"p":4,"N":18,"x":0.5,"y":0.94},
{"p":4,"N":19,"x":0.1,"y":0.08},{"p":4,"N":19,"x":0.15,"y":0.204},{"p":4,"N":19,"x":0.2,"y":0.371},{"p":4,"N":19,"x":0.25,"y":0.543},{"p":4,"N":19,"x":0.3,"y":0.694},{"p":4,"N":19,"x":0.35,"y":0.797},{"p":4,"N":19,"x":0.4,"y":0.868},{"p":4,"N":19,"x":0.45,"y":0.917},{"p":4,"N":19,"x":0.5,"y":0.95},
{"p":4,"N":20,"x":0.1,"y":0.09},{"p":4,"N":20,"x":0.15,"y":0.224},{"p":4,"N":20,"x":0.2,"y":0.397},{"p":4,"N":20,"x":0.25,"y":0.569},{"p":4,"N":20,"x":0.3,"y":0.718},{"p":4,"N":20,"x":0.35,"y":0.819},{"p":4,"N":20,"x":0.4,"y":0.887},{"p":4,"N":20,"x":0.45,"y":0.932},{"p":4,"N":20,"x":0.5,"y":0.96},
{"p":4,"N":21,"x":0.1,"y":0.1},{"p":4,"N":21,"x":0.15,"y":0.243},{"p":4,"N":21,"x":0.2,"y":0.422},{"p":4,"N":21,"x":0.25,"y":0.593},{"p":4,"N":21,"x":0.3,"y":0.739},{"p":4,"N":21,"x":0.35,"y":0.838},{"p":4,"N":21,"x":0.4,"y":0.903},{"p":4,"N":21,"x":0.45,"y":0.944},{"p":4,"N":21,"x":0.5,"y":0.97},
{"p":4,"N":22,"x":0.1,"y":0.11},{"p":4,"N":22,"x":0.15,"y":0.261},{"p":4,"N":22,"x":0.2,"y":0.445},{"p":4,"N":22,"x":0.25,"y":0.615},{"p":4,"N":22,"x":0.3,"y":0.759},{"p":4,"N":22,"x":0.35,"y":0.855},{"p":4,"N":22,"x":0.4,"y":0.916},{"p":4,"N":22,"x":0.45,"y":0.954},{"p":4,"N":22,"x":0.5,"y":0.975},
{"p":4,"N":23,"x":0.1,"y":0.125},{"p":4,"N":23,"x":0.15,"y":0.28},{"p":4,"N":23,"x":0.2,"y":0.468},{"p":4,"N":23,"x":0.25,"y":0.637},{"p":4,"N":23,"x":0.3,"y":0.778},{"p":4,"N":23,"x":0.35,"y":0.871},{"p":4,"N":23,"x":0.4,"y":0.928},{"p":4,"N":23,"x":0.45,"y":0.963},{"p":4,"N":23,"x":0.5,"y":0.98},
{"p":4,"N":24,"x":0.1,"y":0.14},{"p":4,"N":24,"x":0.15,"y":0.299},{"p":4,"N":24,"x":0.2,"y":0.489},{"p":4,"N":24,"x":0.25,"y":0.657},{"p":4,"N":24,"x":0.3,"y":0.795},{"p":4,"N":24,"x":0.35,"y":0.885},{"p":4,"N":24,"x":0.4,"y":0.939},{"p":4,"N":24,"x":0.45,"y":0.97},{"p":4,"N":24,"x":0.5,"y":0.985},
{"p":4,"N":25,"x":0.1,"y":0.155},{"p":4,"N":25,"x":0.15,"y":0.318},{"p":4,"N":25,"x":0.2,"y":0.508},{"p":4,"N":25,"x":0.25,"y":0.675},{"p":4,"N":25,"x":0.3,"y":0.81},{"p":4,"N":25,"x":0.35,"y":0.897},{"p":4,"N":25,"x":0.4,"y":0.948},{"p":4,"N":25,"x":0.45,"y":0.976},{"p":4,"N":25,"x":0.5,"y":0.988},
{"p":4,"N":26,"x":0.1,"y":0.165},{"p":4,"N":26,"x":0.15,"y":0.332},{"p":4,"N":26,"x":0.2,"y":0.523},{"p":4,"N":26,"x":0.25,"y":0.69},{"p":4,"N":26,"x":0.3,"y":0.823},{"p":4,"N":26,"x":0.35,"y":0.907},{"p":4,"N":26,"x":0.4,"y":0.955},{"p":4,"N":26,"x":0.45,"y":0.98},{"p":4,"N":26,"x":0.5,"y":0.99},
{"p":4,"N":27,"x":0.1,"y":0.175},{"p":4,"N":27,"x":0.15,"y":0.346},{"p":4,"N":27,"x":0.2,"y":0.537},{"p":4,"N":27,"x":0.25,"y":0.703},{"p":4,"N":27,"x":0.3,"y":0.835},{"p":4,"N":27,"x":0.35,"y":0.916},{"p":4,"N":27,"x":0.4,"y":0.961},{"p":4,"N":27,"x":0.45,"y":0.984},{"p":4,"N":27,"x":0.5,"y":0.993},
{"p":4,"N":28,"x":0.1,"y":0.185},{"p":4,"N":28,"x":0.15,"y":0.359},{"p":4,"N":28,"x":0.2,"y":0.55},{"p":4,"N":28,"x":0.25,"y":0.716},{"p":4,"N":28,"x":0.3,"y":0.846},{"p":4,"N":28,"x":0.35,"y":0.924},{"p":4,"N":28,"x":0.4,"y":0.966},{"p":4,"N":28,"x":0.45,"y":0.987},{"p":4,"N":28,"x":0.5,"y":0.995},
{"p":4,"N":29,"x":0.1,"y":0.2},{"p":4,"N":29,"x":0.15,"y":0.375},{"p":4,"N":29,"x":0.2,"y":0.564},{"p":4,"N":29,"x":0.25,"y":0.729},{"p":4,"N":29,"x":0.3,"y":0.857},{"p":4,"N":29,"x":0.35,"y":0.931},{"p":4,"N":29,"x":0.4,"y":0.97},{"p":4,"N":29,"x":0.45,"y":0.989},{"p":4,"N":29,"x":0.5,"y":0.997},
{"p":4,"N":30,"x":0.1,"y":0.215},{"p":4,"N":30,"x":0.15,"y":0.392},{"p":4,"N":30,"x":0.2,"y":0.578},{"p":4,"N":30,"x":0.25,"y":0.742},{"p":4,"N":30,"x":0.3,"y":0.867},{"p":4,"N":30,"x":0.35,"y":0.938},{"p":4,"N":30,"x":0.4,"y":0.974},{"p":4,"N":30,"x":0.45,"y":0.991},{"p":4,"N":30,"x":0.5,"y":0.998}
]
},
"columns":2,
"spacing":{"row":109,"column":98},
"bounds":"flush",
"concat":[
{"width":314,"height":278,"layer":[
{"data":{"name":"curves"},"transform":[{"filter":"datum.p == 1"}],"mark":{"type":"line","interpolate":"monotone","strokeWidth":1.3,"clip":true},
"encoding":{"x":{"field":"x","type":"quantitative","scale":{"domain":[0.1,0.5],"nice":false},"axis":{"orient":"bottom","values":[0.1,0.2,0.3,0.4,0.5],"format":"~g","title":"Proportion of population showing effect","titleFontSize":11.5,"labelPadding":9,"titlePadding":3}},
"y":{"field":"y","type":"quantitative","scale":{"domain":[0,1],"nice":false},"axis":{"orient":"left","values":[0,0.1,0.2,0.3,0.4,0.5,0.6,0.7,0.8,0.9,1],"format":"~g","title":"Power for population inference","titleFontSize":10.5,"labelPadding":9,"titlePadding":4}},
"color":{"field":"N","type":"ordinal","scale":{"domain":[5,6,7,8,9,10,11,12,13,14,15,16,17,18,19,20,21,22,23,24,25,26,27,28,29,30],"range":["#3a3aa8","#3434bc","#2c2cd4","#2626ea","#2040f8","#2060ff","#2080ff","#20a0ff","#20c4f8","#20e0f0","#30f0e0","#50f8c0","#78f8a0","#a0f880","#c8f860","#e8f040","#f8e030","#ffc030","#ffa030","#ff8030","#ff6030","#ff4030","#f02828","#e02020","#d01818","#c01818"]},"legend":null}}},
{"data":{"name":"labels"},"transform":[{"filter":"datum.p == 1"}],"mark":{"type":"text","align":"left","baseline":"middle","fontSize":10.5,"color":"#222","font":"Liberation Sans"},
"encoding":{"x":{"field":"x","type":"quantitative","scale":{"domain":[0.1,0.5],"nice":false},"axis":{"orient":"top","values":[0.1,0.2,0.3,0.4,0.5],"labels":false,"title":null}},
"y":{"field":"y","type":"quantitative","scale":{"domain":[0,1],"nice":false},"axis":{"orient":"right","values":[0,0.1,0.2,0.3,0.4,0.5,0.6,0.7,0.8,0.9,1],"labels":false,"title":null}},
"text":{"field":"t"}}},
{"data":{"values":[{"a":"p","b":"uc","c":"< 0.001"}]},"layer":[
{"mark":{"type":"text","align":"left","baseline":"alphabetic","fontSize":15,"fontWeight":"bold","font":"Liberation Sans","dx":-43,"dy":-12.5},"encoding":{"x":{"datum":0.3,"type":"quantitative","axis":null},"y":{"datum":1,"type":"quantitative","axis":null},"text":{"field":"a"}}},
{"mark":{"type":"text","align":"left","baseline":"alphabetic","fontSize":11.5,"fontWeight":"bold","font":"Liberation Sans","dx":-33.5,"dy":-7},"encoding":{"x":{"datum":0.3,"type":"quantitative","axis":null},"y":{"datum":1,"type":"quantitative","axis":null},"text":{"field":"b"}}},
{"mark":{"type":"text","align":"left","baseline":"alphabetic","fontSize":15,"fontWeight":"bold","font":"Liberation Sans","dx":-7,"dy":-12.5},"encoding":{"x":{"datum":0.3,"type":"quantitative","axis":null},"y":{"datum":1,"type":"quantitative","axis":null},"text":{"field":"c"}}}
]}
],"resolve":{"axis":{"x":"independent","y":"independent"}}},
{"width":314,"height":278,"layer":[
{"data":{"name":"curves"},"transform":[{"filter":"datum.p == 2"}],"mark":{"type":"line","interpolate":"monotone","strokeWidth":1.3,"clip":true},
"encoding":{"x":{"field":"x","type":"quantitative","scale":{"domain":[0.1,0.5],"nice":false},"axis":{"orient":"bottom","values":[0.1,0.2,0.3,0.4,0.5],"format":"~g","title":"Proportion of population showing effect","titleFontSize":11.5,"labelPadding":9,"titlePadding":3}},
"y":{"field":"y","type":"quantitative","scale":{"domain":[0,1],"nice":false},"axis":{"orient":"left","values":[0,0.1,0.2,0.3,0.4,0.5,0.6,0.7,0.8,0.9,1],"format":"~g","title":"Power for population inference","titleFontSize":10.5,"labelPadding":9,"titlePadding":4}},
"color":{"field":"N","type":"ordinal","legend":null}}},
{"data":{"name":"labels"},"transform":[{"filter":"datum.p == 2"}],"mark":{"type":"text","align":"left","baseline":"middle","fontSize":10.5,"color":"#222","font":"Liberation Sans"},
"encoding":{"x":{"field":"x","type":"quantitative","scale":{"domain":[0.1,0.5],"nice":false},"axis":{"orient":"top","values":[0.1,0.2,0.3,0.4,0.5],"labels":false,"title":null}},
"y":{"field":"y","type":"quantitative","scale":{"domain":[0,1],"nice":false},"axis":{"orient":"right","values":[0,0.1,0.2,0.3,0.4,0.5,0.6,0.7,0.8,0.9,1],"labels":false,"title":null}},
"text":{"field":"t"}}},
{"data":{"values":[{"a":"p","b":"cFWE","c":"< 0.05"}]},"layer":[
{"mark":{"type":"text","align":"left","baseline":"alphabetic","fontSize":15,"fontWeight":"bold","font":"Liberation Sans","dx":-51,"dy":-12.5},"encoding":{"x":{"datum":0.3,"type":"quantitative","axis":null},"y":{"datum":1,"type":"quantitative","axis":null},"text":{"field":"a"}}},
{"mark":{"type":"text","align":"left","baseline":"alphabetic","fontSize":11.5,"fontWeight":"bold","font":"Liberation Sans","dx":-41.5,"dy":-7},"encoding":{"x":{"datum":0.3,"type":"quantitative","axis":null},"y":{"datum":1,"type":"quantitative","axis":null},"text":{"field":"b"}}},
{"mark":{"type":"text","align":"left","baseline":"alphabetic","fontSize":15,"fontWeight":"bold","font":"Liberation Sans","dx":1,"dy":-12.5},"encoding":{"x":{"datum":0.3,"type":"quantitative","axis":null},"y":{"datum":1,"type":"quantitative","axis":null},"text":{"field":"c"}}}
]}
],"resolve":{"axis":{"x":"independent","y":"independent"}}},
{"width":314,"height":278,"layer":[
{"data":{"name":"curves"},"transform":[{"filter":"datum.p == 3"}],"mark":{"type":"line","interpolate":"monotone","strokeWidth":1.3,"clip":true},
"encoding":{"x":{"field":"x","type":"quantitative","scale":{"domain":[0.1,0.5],"nice":false},"axis":{"orient":"bottom","values":[0.1,0.2,0.3,0.4,0.5],"format":"~g","title":"Proportion of population showing effect","titleFontSize":11.5,"labelPadding":9,"titlePadding":3}},
"y":{"field":"y","type":"quantitative","scale":{"domain":[0,1],"nice":false},"axis":{"orient":"left","values":[0,0.1,0.2,0.3,0.4,0.5,0.6,0.7,0.8,0.9,1],"format":"~g","title":"Power for population inference","titleFontSize":10.5,"labelPadding":9,"titlePadding":4}},
"color":{"field":"N","type":"ordinal","legend":null}}},
{"data":{"name":"labels"},"transform":[{"filter":"datum.p == 3"}],"mark":{"type":"text","align":"left","baseline":"middle","fontSize":10.5,"color":"#222","font":"Liberation Sans"},
"encoding":{"x":{"field":"x","type":"quantitative","scale":{"domain":[0.1,0.5],"nice":false},"axis":{"orient":"top","values":[0.1,0.2,0.3,0.4,0.5],"labels":false,"title":null}},
"y":{"field":"y","type":"quantitative","scale":{"domain":[0,1],"nice":false},"axis":{"orient":"right","values":[0,0.1,0.2,0.3,0.4,0.5,0.6,0.7,0.8,0.9,1],"labels":false,"title":null}},
"text":{"field":"t"}}},
{"data":{"values":[{"a":"p","b":"FDR","c":"< 0.05"}]},"layer":[
{"mark":{"type":"text","align":"left","baseline":"alphabetic","fontSize":15,"fontWeight":"bold","font":"Liberation Sans","dx":-44,"dy":-12.5},"encoding":{"x":{"datum":0.3,"type":"quantitative","axis":null},"y":{"datum":1,"type":"quantitative","axis":null},"text":{"field":"a"}}},
{"mark":{"type":"text","align":"left","baseline":"alphabetic","fontSize":11.5,"fontWeight":"bold","font":"Liberation Sans","dx":-34.5,"dy":-7},"encoding":{"x":{"datum":0.3,"type":"quantitative","axis":null},"y":{"datum":1,"type":"quantitative","axis":null},"text":{"field":"b"}}},
{"mark":{"type":"text","align":"left","baseline":"alphabetic","fontSize":15,"fontWeight":"bold","font":"Liberation Sans","dx":-5,"dy":-12.5},"encoding":{"x":{"datum":0.3,"type":"quantitative","axis":null},"y":{"datum":1,"type":"quantitative","axis":null},"text":{"field":"c"}}}
]}
],"resolve":{"axis":{"x":"independent","y":"independent"}}},
{"width":314,"height":278,"layer":[
{"data":{"name":"curves"},"transform":[{"filter":"datum.p == 4"}],"mark":{"type":"line","interpolate":"monotone","strokeWidth":1.3,"clip":true},
"encoding":{"x":{"field":"x","type":"quantitative","scale":{"domain":[0.1,0.5],"nice":false},"axis":{"orient":"bottom","values":[0.1,0.2,0.3,0.4,0.5],"format":"~g","title":"Proportion of population showing effect","titleFontSize":11.5,"labelPadding":9,"titlePadding":3}},
"y":{"field":"y","type":"quantitative","scale":{"domain":[0,1],"nice":false},"axis":{"orient":"left","values":[0,0.1,0.2,0.3,0.4,0.5,0.6,0.7,0.8,0.9,1],"format":"~g","title":"Power for population inference","titleFontSize":10.5,"labelPadding":9,"titlePadding":4}},
"color":{"field":"N","type":"ordinal","legend":null}}},
{"data":{"name":"labels"},"transform":[{"filter":"datum.p == 4"}],"mark":{"type":"text","align":"left","baseline":"middle","fontSize":10.5,"color":"#222","font":"Liberation Sans"},
"encoding":{"x":{"field":"x","type":"quantitative","scale":{"domain":[0.1,0.5],"nice":false},"axis":{"orient":"top","values":[0.1,0.2,0.3,0.4,0.5],"labels":false,"title":null}},
"y":{"field":"y","type":"quantitative","scale":{"domain":[0,1],"nice":false},"axis":{"orient":"right","values":[0,0.1,0.2,0.3,0.4,0.5,0.6,0.7,0.8,0.9,1],"labels":false,"title":null}},
"text":{"field":"t"}}},
{"data":{"values":[{"a":"p","b":"FWE","c":"< 0.05"}]},"layer":[
{"mark":{"type":"text","align":"left","baseline":"alphabetic","fontSize":15,"fontWeight":"bold","font":"Liberation Sans","dx":-47,"dy":-12.5},"encoding":{"x":{"datum":0.3,"type":"quantitative","axis":null},"y":{"datum":1,"type":"quantitative","axis":null},"text":{"field":"a"}}},
{"mark":{"type":"text","align":"left","baseline":"alphabetic","fontSize":11.5,"fontWeight":"bold","font":"Liberation Sans","dx":-37.5,"dy":-7},"encoding":{"x":{"datum":0.3,"type":"quantitative","axis":null},"y":{"datum":1,"type":"quantitative","axis":null},"text":{"field":"b"}}},
{"mark":{"type":"text","align":"left","baseline":"alphabetic","fontSize":15,"fontWeight":"bold","font":"Liberation Sans","dx":-5,"dy":-12.5},"encoding":{"x":{"datum":0.3,"type":"quantitative","axis":null},"y":{"datum":1,"type":"quantitative","axis":null},"text":{"field":"c"}}}
]}
],"resolve":{"axis":{"x":"independent","y":"independent"}}}
]
}
